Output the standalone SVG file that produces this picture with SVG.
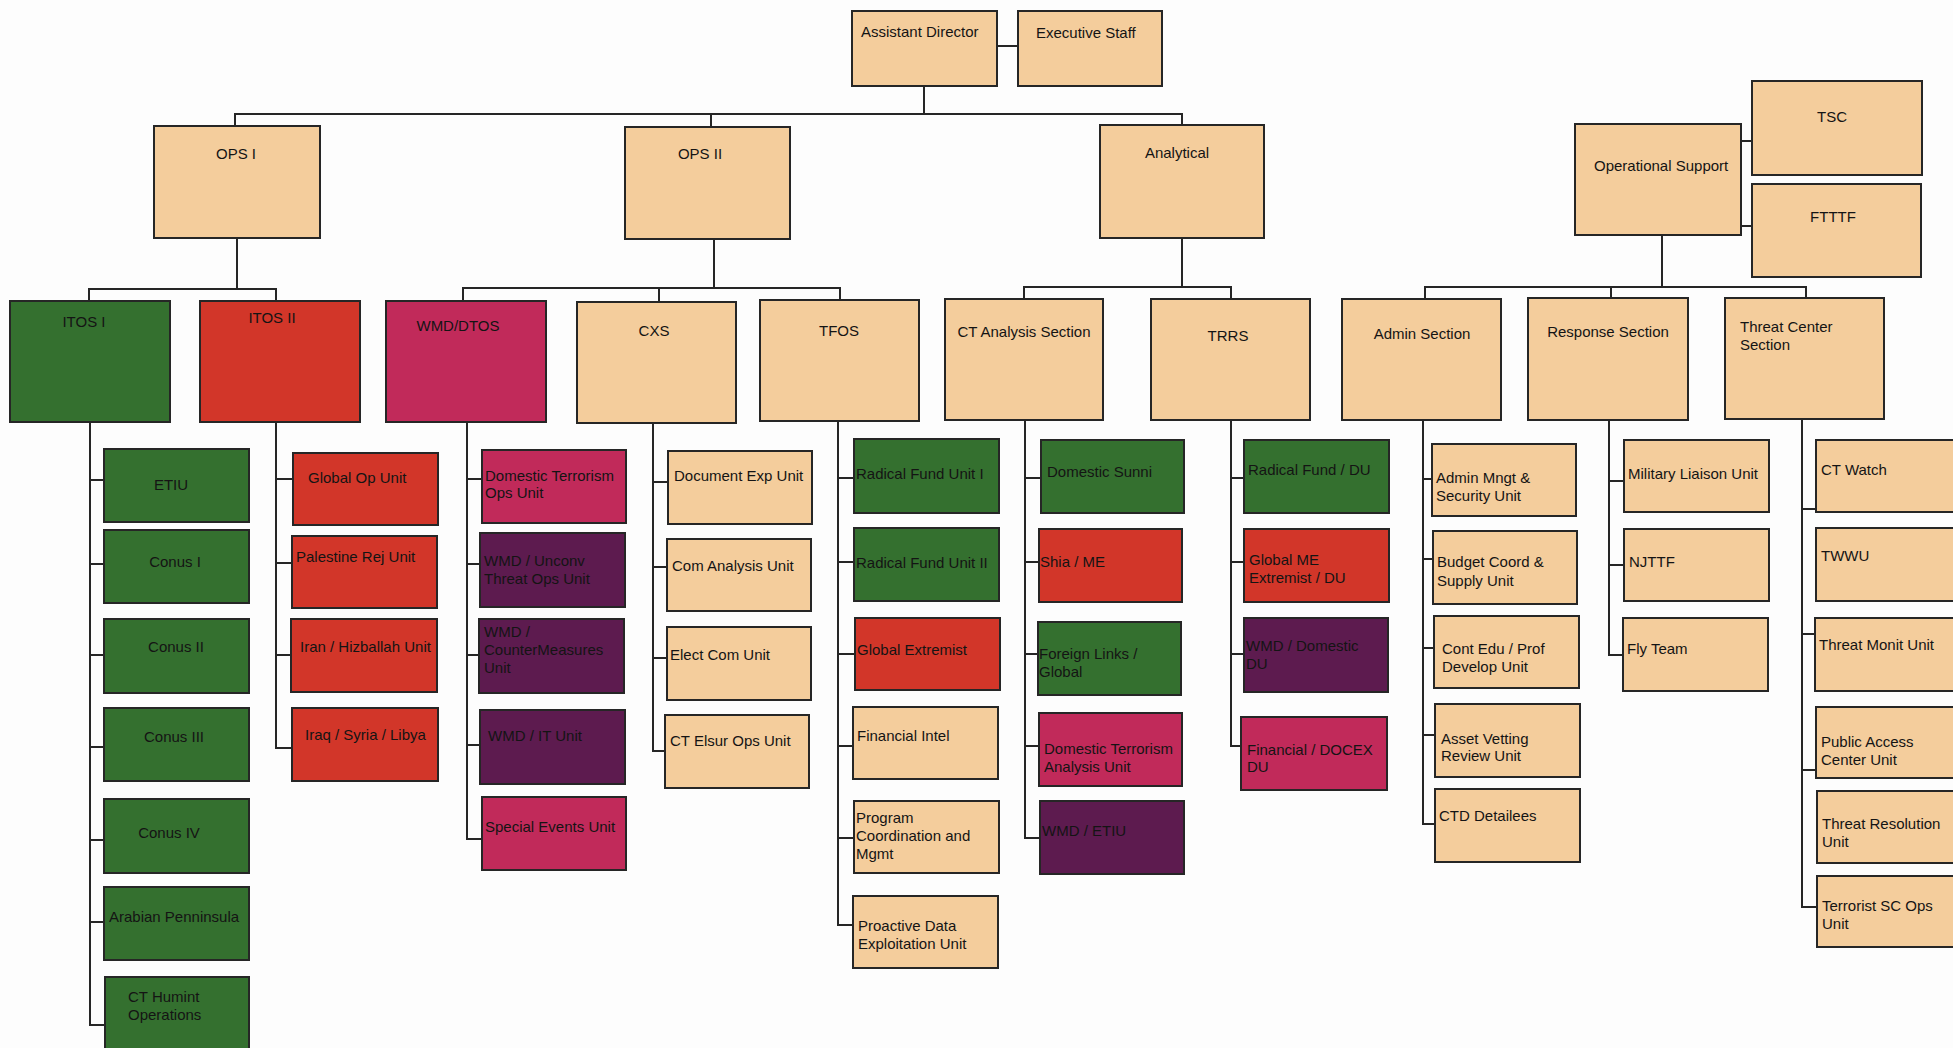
<svg xmlns="http://www.w3.org/2000/svg" width="1953" height="1048" viewBox="0 0 1953 1048">
<style>
rect{stroke:#262626;stroke-width:2}
.tan{fill:#f4cd9c}
.grn{fill:#34702f}
.red{fill:#d23629}
.mag{fill:#c12a5a}
.pur{fill:#5d1b4f}
text{font-family:"Liberation Sans",Arial,sans-serif;font-size:15px;fill:#141414}
.c{text-anchor:middle}
#connectors path{stroke:#262626;stroke-width:2;fill:none}
</style>
<rect x="0" y="0" width="1953" height="1048" style="fill:#fdfdfd;stroke:none"/>
<g id="connectors">
<path d="M997 46H1018"/>
<path d="M924 86V114M235 126V114H1182V125M711 114V127"/>
<path d="M1741 141H1752M1741 226H1752"/>
<path d="M237 238V289M89 301V289H276V301"/>
<path d="M714 239V288M463 301V288H840V300M659 288V302"/>
<path d="M1182 238V287M1024 299V287H1231V299"/>
<path d="M1662 235V287M1425 299V287H1806V298M1611 287V298"/>
<path d="M90 422V1025H105M90 480H104M90 564H104M90 655H104M90 747H104M90 840H104M90 922H104"/>
<path d="M276 422V748H292M276 479H293M276 563H292M276 655H291"/>
<path d="M467 422V839H482M467 479H482M467 564H480M467 655H479M467 745H480"/>
<path d="M653 423V751H665M653 482H668M653 567H667M653 658H667"/>
<path d="M838 421V925H853M838 478H854M838 562H854M838 654H855M838 746H853M838 838H854"/>
<path d="M1025 420V838H1040M1025 478H1041M1025 562H1039M1025 654H1038M1025 746H1039"/>
<path d="M1231 420V746H1241M1231 478H1244M1231 562H1244M1231 654H1244"/>
<path d="M1423 420V824H1435M1423 479H1432M1423 559H1433M1423 648H1434M1423 735H1435"/>
<path d="M1609 420V655H1623M1609 481H1624M1609 565H1624"/>
<path d="M1802 419V907H1817M1802 509H1816M1802 634H1815M1802 770H1816"/>
</g>
<g id="assistant-director"><rect class="tan" x="852" y="11" width="145" height="75"/><text x="861" y="37">Assistant Director</text></g>
<g id="executive-staff"><rect class="tan" x="1018" y="11" width="144" height="75"/><text x="1036" y="38">Executive Staff</text></g>
<g id="ops-1"><rect class="tan" x="154" y="126" width="166" height="112"/><text class="c" x="236" y="159">OPS I</text></g>
<g id="ops-2"><rect class="tan" x="625" y="127" width="165" height="112"/><text class="c" x="700" y="159">OPS II</text></g>
<g id="analytical"><rect class="tan" x="1100" y="125" width="164" height="113"/><text class="c" x="1177" y="158">Analytical</text></g>
<g id="operational-support"><rect class="tan" x="1575" y="124" width="166" height="111"/><text x="1594" y="171">Operational Support</text></g>
<g id="tsc"><rect class="tan" x="1752" y="81" width="170" height="94"/><text class="c" x="1832" y="122">TSC</text></g>
<g id="ftttf"><rect class="tan" x="1752" y="184" width="169" height="93"/><text class="c" x="1833" y="222">FTTTF</text></g>
<g id="itos-1"><rect class="grn" x="10" y="301" width="160" height="121"/><text class="c" x="84" y="327">ITOS I</text></g>
<g id="itos-2"><rect class="red" x="200" y="301" width="160" height="121"/><text class="c" x="272" y="323">ITOS II</text></g>
<g id="wmd-dtos"><rect class="mag" x="386" y="301" width="160" height="121"/><text class="c" x="458" y="331">WMD/DTOS</text></g>
<g id="cxs"><rect class="tan" x="577" y="302" width="159" height="121"/><text class="c" x="654" y="336">CXS</text></g>
<g id="tfos"><rect class="tan" x="760" y="300" width="159" height="121"/><text class="c" x="839" y="336">TFOS</text></g>
<g id="ct-analysis-section"><rect class="tan" x="945" y="299" width="158" height="121"/><text class="c" x="1024" y="337">CT Analysis Section</text></g>
<g id="trrs"><rect class="tan" x="1151" y="299" width="159" height="121"/><text class="c" x="1228" y="341">TRRS</text></g>
<g id="admin-section"><rect class="tan" x="1342" y="299" width="159" height="121"/><text class="c" x="1422" y="339">Admin Section</text></g>
<g id="response-section"><rect class="tan" x="1528" y="298" width="160" height="122"/><text class="c" x="1608" y="337">Response Section</text></g>
<g id="threat-center-section"><rect class="tan" x="1725" y="298" width="159" height="121"/><text x="1740" y="332">Threat Center</text><text x="1740" y="350">Section</text></g>
<g id="etiu"><rect class="grn" x="104" y="449" width="145" height="73"/><text class="c" x="171" y="490">ETIU</text></g>
<g id="conus-1"><rect class="grn" x="104" y="530" width="145" height="73"/><text class="c" x="175" y="567">Conus I</text></g>
<g id="conus-2"><rect class="grn" x="104" y="619" width="145" height="74"/><text class="c" x="176" y="652">Conus II</text></g>
<g id="conus-3"><rect class="grn" x="104" y="708" width="145" height="73"/><text class="c" x="174" y="742">Conus III</text></g>
<g id="conus-4"><rect class="grn" x="104" y="799" width="145" height="74"/><text class="c" x="169" y="838">Conus IV</text></g>
<g id="arabian-penninsula"><rect class="grn" x="104" y="887" width="145" height="73"/><text x="109" y="922">Arabian Penninsula</text></g>
<g id="ct-humint"><rect class="grn" x="105" y="977" width="144" height="85"/><text x="128" y="1002">CT Humint</text><text x="128" y="1020">Operations</text></g>
<g id="global-op-unit"><rect class="red" x="293" y="453" width="145" height="72"/><text x="308" y="483">Global Op Unit</text></g>
<g id="palestine-rej-unit"><rect class="red" x="292" y="536" width="145" height="72"/><text x="296" y="562">Palestine Rej Unit</text></g>
<g id="iran-hizballah-unit"><rect class="red" x="291" y="619" width="146" height="73"/><text x="300" y="652">Iran / Hizballah Unit</text></g>
<g id="iraq-syria-libya"><rect class="red" x="292" y="708" width="146" height="73"/><text x="305" y="740">Iraq / Syria / Libya</text></g>
<g id="domestic-terrorism-ops"><rect class="mag" x="482" y="450" width="144" height="73"/><text x="485" y="481">Domestic Terrorism</text><text x="485" y="498">Ops Unit</text></g>
<g id="wmd-unconv"><rect class="pur" x="480" y="533" width="145" height="74"/><text x="484" y="566">WMD / Unconv</text><text x="484" y="584">Threat Ops Unit</text></g>
<g id="wmd-countermeasures"><rect class="pur" x="479" y="619" width="145" height="74"/><text x="484" y="637">WMD /</text><text x="484" y="655">CounterMeasures</text><text x="484" y="673">Unit</text></g>
<g id="wmd-it-unit"><rect class="pur" x="480" y="710" width="145" height="74"/><text x="488" y="741">WMD / IT Unit</text></g>
<g id="special-events-unit"><rect class="mag" x="482" y="797" width="144" height="73"/><text x="485" y="832">Special Events Unit</text></g>
<g id="document-exp-unit"><rect class="tan" x="668" y="451" width="144" height="73"/><text x="674" y="481">Document Exp Unit</text></g>
<g id="com-analysis-unit"><rect class="tan" x="667" y="539" width="144" height="72"/><text x="672" y="571">Com Analysis Unit</text></g>
<g id="elect-com-unit"><rect class="tan" x="667" y="627" width="144" height="73"/><text x="670" y="660">Elect Com Unit</text></g>
<g id="ct-elsur-ops-unit"><rect class="tan" x="665" y="715" width="144" height="73"/><text x="670" y="746">CT Elsur Ops Unit</text></g>
<g id="radical-fund-unit-1"><rect class="grn" x="854" y="439" width="145" height="74"/><text x="856" y="479">Radical Fund Unit I</text></g>
<g id="radical-fund-unit-2"><rect class="grn" x="854" y="528" width="145" height="73"/><text x="856" y="568">Radical Fund Unit II</text></g>
<g id="global-extremist"><rect class="red" x="855" y="618" width="145" height="72"/><text x="857" y="655">Global Extremist</text></g>
<g id="financial-intel"><rect class="tan" x="853" y="707" width="145" height="72"/><text x="857" y="741">Financial Intel</text></g>
<g id="program-coordination"><rect class="tan" x="854" y="801" width="145" height="72"/><text x="856" y="823">Program</text><text x="856" y="841">Coordination and</text><text x="856" y="859">Mgmt</text></g>
<g id="proactive-data"><rect class="tan" x="853" y="896" width="145" height="72"/><text x="858" y="931">Proactive Data</text><text x="858" y="949">Exploitation Unit</text></g>
<g id="domestic-sunni"><rect class="grn" x="1041" y="440" width="143" height="73"/><text x="1047" y="477">Domestic Sunni</text></g>
<g id="shia-me"><rect class="red" x="1039" y="529" width="143" height="73"/><text x="1040" y="567">Shia / ME</text></g>
<g id="foreign-links"><rect class="grn" x="1038" y="622" width="143" height="73"/><text x="1039" y="659">Foreign Links /</text><text x="1039" y="677">Global</text></g>
<g id="domestic-terrorism-analysis"><rect class="mag" x="1039" y="713" width="143" height="73"/><text x="1044" y="754">Domestic Terrorism</text><text x="1044" y="772">Analysis Unit</text></g>
<g id="wmd-etiu"><rect class="pur" x="1040" y="801" width="144" height="73"/><text x="1042" y="836">WMD / ETIU</text></g>
<g id="radical-fund-du"><rect class="grn" x="1244" y="440" width="145" height="73"/><text x="1248" y="475">Radical Fund / DU</text></g>
<g id="global-me-extremist"><rect class="red" x="1244" y="529" width="145" height="73"/><text x="1249" y="565">Global ME</text><text x="1249" y="583">Extremist / DU</text></g>
<g id="wmd-domestic-du"><rect class="pur" x="1244" y="618" width="144" height="74"/><text x="1246" y="651">WMD / Domestic</text><text x="1246" y="669">DU</text></g>
<g id="financial-docex"><rect class="mag" x="1241" y="717" width="146" height="73"/><text x="1247" y="755">Financial / DOCEX</text><text x="1247" y="772">DU</text></g>
<g id="admin-mngt"><rect class="tan" x="1432" y="444" width="144" height="72"/><text x="1436" y="483">Admin Mngt &amp;</text><text x="1436" y="501">Security Unit</text></g>
<g id="budget-coord"><rect class="tan" x="1433" y="531" width="144" height="73"/><text x="1437" y="567">Budget Coord &amp;</text><text x="1437" y="586">Supply Unit</text></g>
<g id="cont-edu"><rect class="tan" x="1434" y="616" width="145" height="72"/><text x="1442" y="654">Cont Edu / Prof</text><text x="1442" y="672">Develop Unit</text></g>
<g id="asset-vetting"><rect class="tan" x="1435" y="704" width="145" height="73"/><text x="1441" y="744">Asset Vetting</text><text x="1441" y="761">Review Unit</text></g>
<g id="ctd-detailees"><rect class="tan" x="1435" y="789" width="145" height="73"/><text x="1439" y="821">CTD Detailees</text></g>
<g id="military-liaison"><rect class="tan" x="1624" y="440" width="145" height="72"/><text x="1628" y="479">Military Liaison Unit</text></g>
<g id="njttf"><rect class="tan" x="1624" y="529" width="145" height="72"/><text x="1629" y="567">NJTTF</text></g>
<g id="fly-team"><rect class="tan" x="1623" y="618" width="145" height="73"/><text x="1627" y="654">Fly Team</text></g>
<g id="ct-watch"><rect class="tan" x="1816" y="440" width="150" height="72"/><text x="1821" y="475">CT Watch</text></g>
<g id="twwu"><rect class="tan" x="1816" y="528" width="150" height="73"/><text x="1821" y="561">TWWU</text></g>
<g id="threat-monit"><rect class="tan" x="1815" y="618" width="150" height="73"/><text x="1819" y="650">Threat Monit Unit</text></g>
<g id="public-access"><rect class="tan" x="1816" y="707" width="150" height="71"/><text x="1821" y="747">Public Access</text><text x="1821" y="765">Center Unit</text></g>
<g id="threat-resolution"><rect class="tan" x="1817" y="791" width="150" height="72"/><text x="1822" y="829">Threat Resolution</text><text x="1822" y="847">Unit</text></g>
<g id="terrorist-sc-ops"><rect class="tan" x="1817" y="876" width="150" height="71"/><text x="1822" y="911">Terrorist SC Ops</text><text x="1822" y="929">Unit</text></g>
</svg>
